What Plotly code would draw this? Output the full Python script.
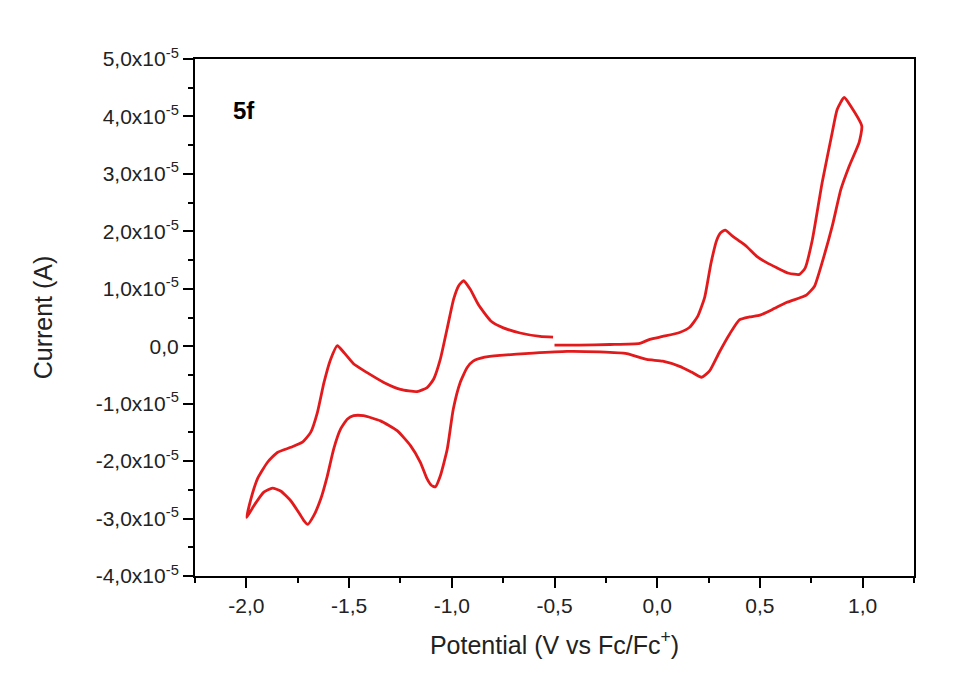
import plotly.graph_objects as go

# Cyclic voltammogram of 5f — potential (V vs Fc/Fc+), current in units of 1e-5 A
potential = [
    -0.50, -0.38, -0.23, -0.085, -0.036, 0.027, 0.109, 0.158, 0.197, 0.231, 0.262, 0.290,
    0.310, 0.331, 0.362, 0.400, 0.434, 0.483, 0.531, 0.580, 0.640, 0.692, 0.720, 0.755, 0.803,
    0.852, 0.876, 0.910, 0.944, 0.996,
    0.983, 0.934, 0.894, 0.852, 0.803, 0.765, 0.726, 0.692, 0.629, 0.561, 0.500,
    0.449, 0.400, 0.352, 0.303, 0.255, 0.216, 0.167, 0.109, 0.027, -0.051, -0.148, -0.279,
    -0.439, -0.604, -0.765, -0.840, -0.896, -0.925, -0.959, -0.993, -1.022, -1.056, -1.080,
    -1.100, -1.120, -1.153, -1.201, -1.266, -1.347, -1.430, -1.478, -1.509, -1.541, -1.575,
    -1.606, -1.638, -1.672, -1.701, -1.721, -1.735, -1.784, -1.833, -1.873, -1.915, -1.964,
    -1.998,
    -1.978, -1.946, -1.897, -1.849, -1.784, -1.727, -1.687, -1.654, -1.622, -1.590, -1.557,
    -1.525, -1.477, -1.412, -1.331, -1.250, -1.169, -1.120, -1.088, -1.056, -1.023, -0.991,
    -0.967, -0.943, -0.910, -0.870, -0.810, -0.749, -0.667, -0.570, -0.507,
]
current_e5 = [
    0.02, 0.02, 0.03, 0.05, 0.12, 0.17, 0.24, 0.33, 0.52, 0.85, 1.45, 1.85,
    1.98, 2.02, 1.93, 1.83, 1.74, 1.57, 1.46, 1.37, 1.27, 1.25, 1.36, 1.85, 2.85,
    3.72, 4.12, 4.33, 4.17, 3.83,
    3.55, 3.13, 2.73, 2.09, 1.46, 1.04, 0.89, 0.84, 0.76, 0.64, 0.54,
    0.51, 0.46, 0.21, -0.10, -0.43, -0.54, -0.45, -0.35, -0.26, -0.23, -0.13, -0.10,
    -0.09, -0.12, -0.16, -0.19, -0.26, -0.37, -0.63, -1.10, -1.79, -2.26, -2.45,
    -2.42, -2.31, -2.02, -1.73, -1.47, -1.30, -1.21, -1.21, -1.27, -1.44, -1.79,
    -2.26, -2.66, -2.95, -3.10, -3.03, -2.95, -2.69, -2.52, -2.47, -2.54, -2.78,
    -2.98,
    -2.66, -2.31, -2.02, -1.85, -1.76, -1.67, -1.50, -1.15, -0.63, -0.23, 0.01,
    -0.11, -0.31, -0.46, -0.63, -0.75, -0.79, -0.72, -0.57, -0.23, 0.30, 0.82,
    1.05, 1.14, 0.99, 0.72, 0.44, 0.32, 0.23, 0.17, 0.16,
]
UNIT = 1e-5
current = [c * UNIT for c in current_e5]

x_tickvals = [-2.0, -1.5, -1.0, -0.5, 0.0, 0.5, 1.0]
x_ticktext = ["-2,0", "-1,5", "-1,0", "-0,5", "0,0", "0,5", "1,0"]
y_tickvals_e5 = [5, 4, 3, 2, 1, 0, -1, -2, -3, -4]
y_ticktext = ["5,0x10<sup>-5</sup>", "4,0x10<sup>-5</sup>", "3,0x10<sup>-5</sup>",
              "2,0x10<sup>-5</sup>", "1,0x10<sup>-5</sup>", "0,0",
              "-1,0x10<sup>-5</sup>", "-2,0x10<sup>-5</sup>", "-3,0x10<sup>-5</sup>",
              "-4,0x10<sup>-5</sup>"]
y_tickvals = [v * UNIT for v in y_tickvals_e5]

FONT = "Liberation Sans, Arial, sans-serif"
TXT = "#222222"

fig = go.Figure()
fig.add_trace(go.Scatter(
    x=potential, y=current, mode="lines",
    line=dict(color="#e31a1c", width=2.8, shape="spline", smoothing=0.5),
    showlegend=False,
))

fig.update_layout(
    width=974, height=686,
    margin=dict(l=195, r=60, t=59, b=110),
    paper_bgcolor="white", plot_bgcolor="white",
    font=dict(family=FONT, color=TXT),
    xaxis=dict(
        range=[-2.25, 1.25], tickvals=x_tickvals, ticktext=x_ticktext,
        ticks="outside", ticklen=10, tickwidth=2, tickcolor="black",
        minor=dict(dtick=0.25, tick0=0, ticks="outside", ticklen=5, tickwidth=2, tickcolor="black"),
        showline=True, linecolor="black", linewidth=2, mirror=True,
        showgrid=False, zeroline=False,
        tickfont=dict(size=21, color=TXT),
        title=dict(text="Potential (V vs Fc/Fc<sup>+</sup>)", font=dict(size=25, color=TXT), standoff=20),
    ),
    yaxis=dict(
        range=[-4 * UNIT, 5 * UNIT], tickvals=y_tickvals, ticktext=y_ticktext,
        ticks="outside", ticklen=10, tickwidth=2, tickcolor="black",
        minor=dict(dtick=0.5 * UNIT, tick0=0, ticks="outside", ticklen=5, tickwidth=2, tickcolor="black"),
        showline=True, linecolor="black", linewidth=2, mirror=True,
        showgrid=False, zeroline=False,
        tickfont=dict(size=21, color=TXT),
        title=dict(text="Current (A)", font=dict(size=25, color=TXT), standoff=36),
    ),
    annotations=[dict(
        text="<b>5f</b>", xref="paper", yref="paper", x=0.05, y=0.93,
        showarrow=False, font=dict(size=24, color="black", family=FONT),
    )],
)

fig.write_html("out.html")
